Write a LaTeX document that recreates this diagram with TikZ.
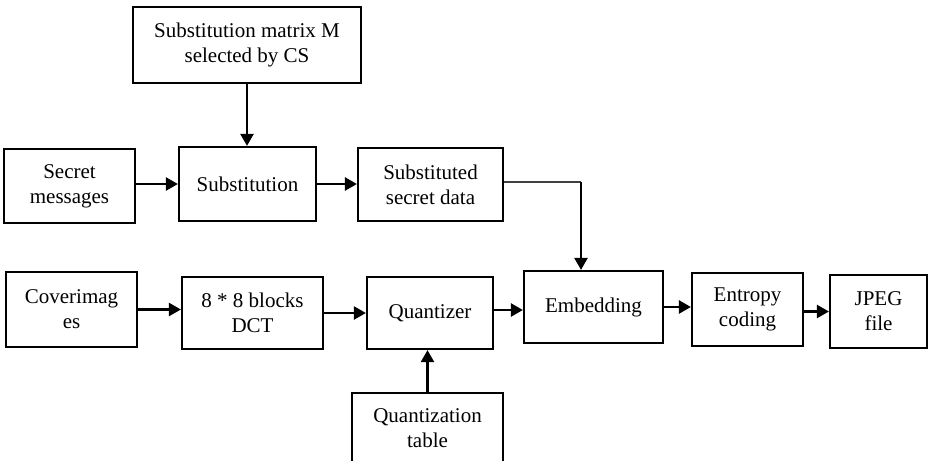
\documentclass[tikz,border=0pt]{standalone}
\usepackage{fontspec}
\setmainfont{Liberation Serif}
\usetikzlibrary{arrows.meta,calc}
\begin{document}
\begin{tikzpicture}[x=1pt,y=-1pt,
  box/.style={draw=black,line width=2.2pt,rectangle,align=center,inner sep=0pt,
    font=\fontsize{21}{25}\selectfont},
  arr/.style={draw=black,line width=2.4pt,-{Triangle[length=12pt,width=13pt]}},
  thinline/.style={draw=black!75,line width=1.2pt}]
\useasboundingbox (0,0) rectangle (928,460);
\begin{scope}
\clip (0,0) rectangle (928,460);
\node[box,minimum width=228pt,minimum height=76pt] (M) at (247,45) {Substitution matrix M\\selected by CS};
\node[box,minimum width=131pt,minimum height=74pt] (sec) at (69.5,186) {Secret\\messages};
\node[box,minimum width=137pt,minimum height=74pt] (sub) at (247.5,184) {Substitution};
\node[box,minimum width=145pt,minimum height=73pt] (sd) at (430.5,184.5) {Substituted\\secret data};
\node[box,minimum width=131pt,minimum height=75pt] (cov) at (71.5,309.5) {Coverimag\\es};
\node[box,minimum width=141pt,minimum height=72pt] (dct) at (252.5,313) {8 * 8 blocks\\DCT};
\node[box,minimum width=126pt,minimum height=72pt] (qz) at (430,313) {Quantizer};
\node[box,minimum width=139pt,minimum height=72pt] (emb) at (593.5,307) {Embedding};
\node[box,minimum width=111pt,minimum height=73pt] (ent) at (747.5,309.5) {Entropy\\coding};
\node[box,minimum width=97pt,minimum height=73pt] (jpeg) at (878.5,311.5) {JPEG\\file};
\node[box,minimum width=151pt,minimum height=70pt] (qt) at (427.5,428) {Quantization\\table};
\coordinate (c) at (581,182);
\draw[arr] (M.south) -- (M.south |- sub.north);
\draw[arr] (sec.east |- sub.west) -- (sub.west);
\draw[arr] (sub.east) -- (sub.east -| sd.west);
\draw[thinline] (sd.east |- c) -- (c);
\draw[arr] (c) -- (c |- emb.north);
\draw[arr] (cov.east) -- (cov.east -| dct.west);
\draw[arr] (dct.east) -- (dct.east -| qz.west);
\draw[arr] ($(qz.east)+(0,-3)$) -- ($(qz.east -| emb.west)+(0,-3)$);
\draw[arr] (emb.east) -- (emb.east -| ent.west);
\draw[arr] ($(ent.east)+(0,2)$) -- ($(ent.east -| jpeg.west)+(0,2)$);
\draw[arr] (qt.north) -- (qt.north |- qz.south);
\end{scope}
\end{tikzpicture}
\end{document}
